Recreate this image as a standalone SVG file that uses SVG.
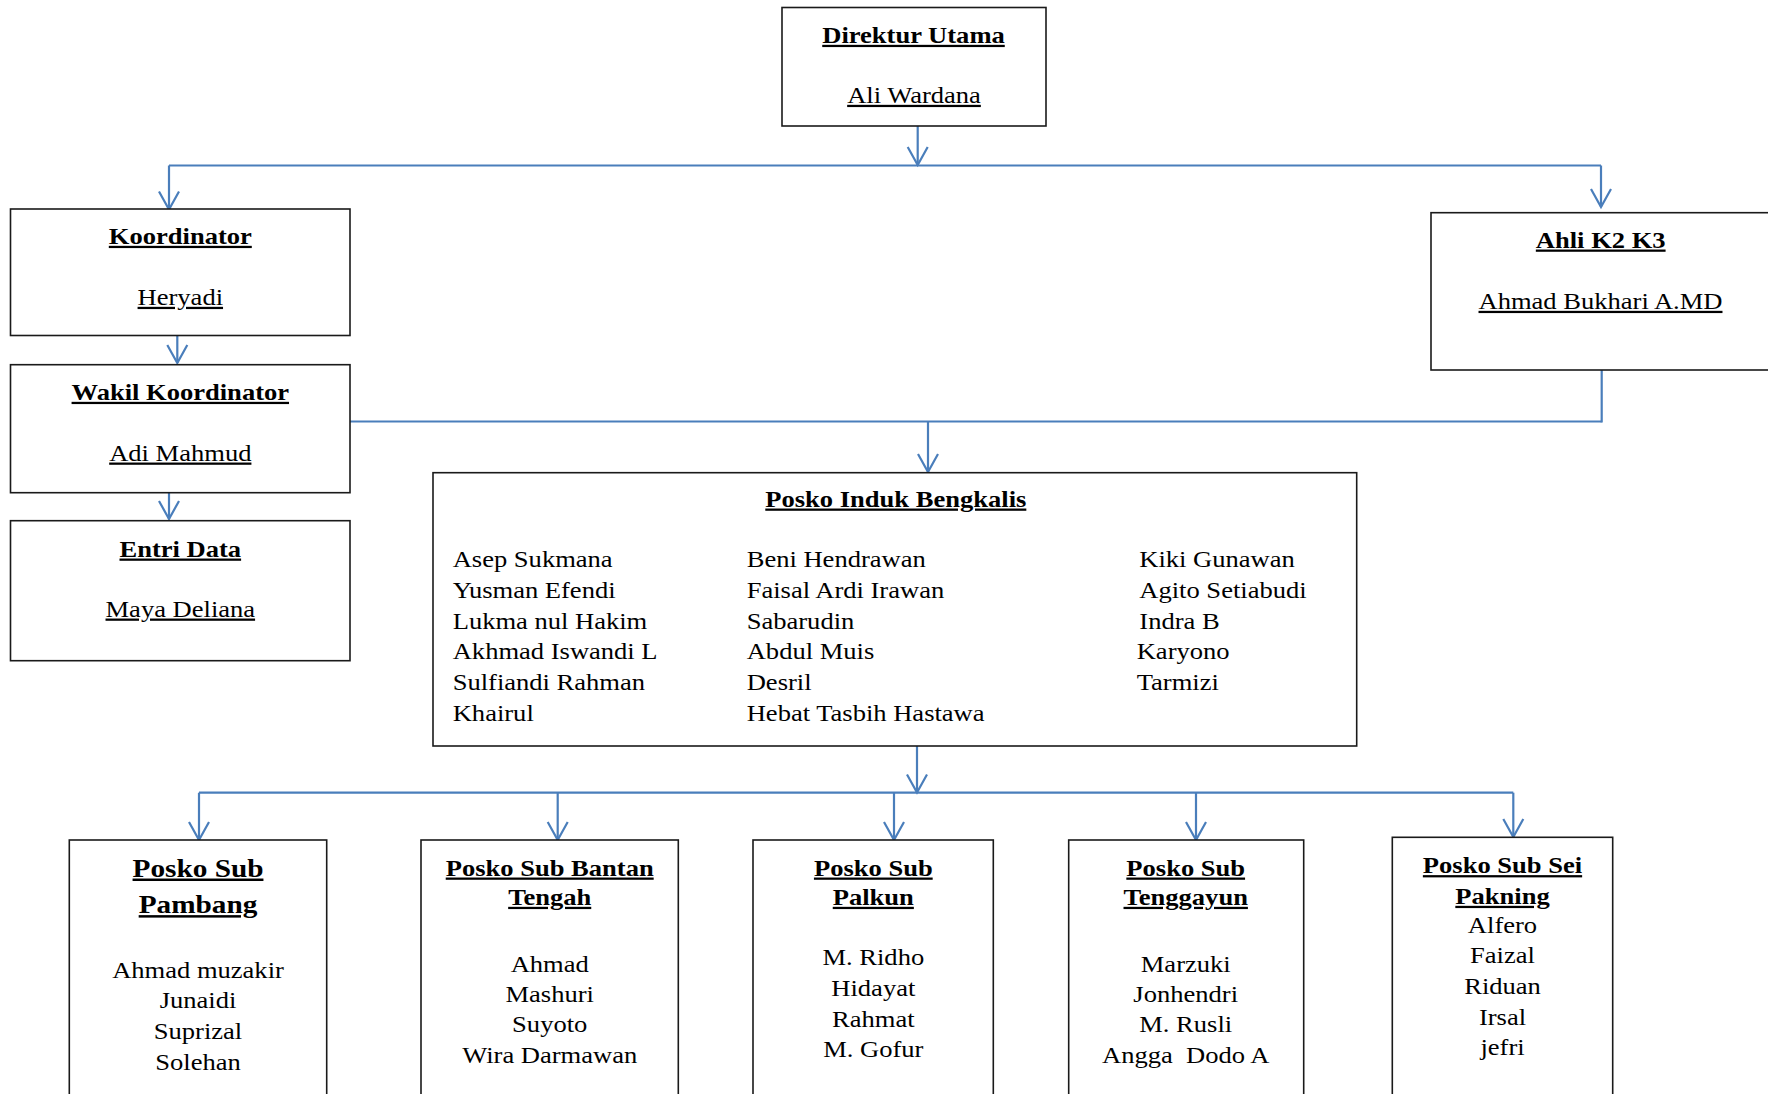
<svg xmlns="http://www.w3.org/2000/svg" width="1768" height="1094" viewBox="0 0 1768 1094">
<style>
.box{fill:#fff;stroke:#1a1a1a;stroke-width:1.6}
.t{font-family:"Liberation Serif","Times New Roman",serif;font-size:22.5px;fill:#000}
.b{font-weight:bold}
.u{text-decoration:underline}
.c{text-anchor:middle}
.big{font-size:24.8px}
.ln{stroke:#4a7ebb;stroke-width:2.2;fill:none}
</style>
<defs>
<marker id="arr" markerUnits="userSpaceOnUse" viewBox="-20 -12 22 24" refX="0" refY="0" markerWidth="22" markerHeight="24" orient="auto" overflow="visible">
<path d="M-18,-10 L0,0 L-18,10" fill="none" stroke="#4a7ebb" stroke-width="2.2"/>
</marker>
</defs>
<rect width="1768" height="1094" fill="#fff"/>

<g id="connectors">
<line class="ln" x1="917.7" y1="123" x2="917.7" y2="165" marker-end="url(#arr)"/>
<line class="ln" x1="169" y1="165.5" x2="1601" y2="165.5"/>
<line class="ln" x1="169" y1="165.5" x2="169" y2="209.5" marker-end="url(#arr)"/>
<line class="ln" x1="1601" y1="165.5" x2="1601" y2="207" marker-end="url(#arr)"/>
<line class="ln" x1="177.3" y1="329" x2="177.3" y2="363" marker-end="url(#arr)"/>
<line class="ln" x1="169" y1="487" x2="169" y2="519" marker-end="url(#arr)"/>
<line class="ln" x1="350" y1="421.5" x2="1601.7" y2="421.5"/>
<line class="ln" x1="1601.7" y1="365" x2="1601.7" y2="422.5"/>
<line class="ln" x1="928" y1="421.5" x2="928" y2="472" marker-end="url(#arr)"/>
<line class="ln" x1="917" y1="737.5" x2="917" y2="792.5" marker-end="url(#arr)"/>
<line class="ln" x1="199" y1="792.7" x2="1513.3" y2="792.7"/>
<line class="ln" x1="199" y1="792.7" x2="199" y2="840" marker-end="url(#arr)"/>
<line class="ln" x1="557.7" y1="792.7" x2="557.7" y2="840" marker-end="url(#arr)"/>
<line class="ln" x1="894" y1="792.7" x2="894" y2="840" marker-end="url(#arr)"/>
<line class="ln" x1="1196" y1="792.7" x2="1196" y2="840" marker-end="url(#arr)"/>
<line class="ln" x1="1513.3" y1="792.7" x2="1513.3" y2="837" marker-end="url(#arr)"/>
</g>

<g id="direktur">
<rect class="box" x="782" y="7.5" width="264" height="118.5"/>
<text class="t b u c" transform="translate(913.5,43) scale(1.18,1)">Direktur Utama</text>
<text class="t u c" transform="translate(914,103) scale(1.18,1)">Ali Wardana</text>
</g>

<g id="koordinator">
<rect class="box" x="10.5" y="209" width="339.5" height="126.5"/>
<text class="t b u c" transform="translate(180.3,244) scale(1.18,1)">Koordinator</text>
<text class="t u c" transform="translate(180.3,305) scale(1.18,1)">Heryadi</text>
</g>

<g id="wakil">
<rect class="box" x="10.5" y="364.7" width="339.5" height="128"/>
<text class="t b u c" transform="translate(180.3,400) scale(1.18,1)">Wakil Koordinator</text>
<text class="t u c" transform="translate(180.3,460.7) scale(1.18,1)">Adi Mahmud</text>
</g>

<g id="entri">
<rect class="box" x="10.5" y="520.7" width="339.5" height="140"/>
<text class="t b u c" transform="translate(180.3,556.7) scale(1.18,1)">Entri Data</text>
<text class="t u c" transform="translate(180.3,616.7) scale(1.18,1)">Maya Deliana</text>
</g>

<g id="ahli">
<rect class="box" x="1431" y="212.7" width="360" height="157.3"/>
<text class="t b u c" transform="translate(1600.7,247.7) scale(1.18,1)">Ahli K2 K3</text>
<text class="t u c" transform="translate(1600.5,309) scale(1.18,1)">Ahmad Bukhari A.MD</text>
</g>

<g id="posko-induk">
<rect class="box" x="433" y="472.7" width="923.7" height="273.3"/>
<text class="t b u c" transform="translate(895.8,506.7) scale(1.18,1)">Posko Induk Bengkalis</text>
<text class="t" transform="translate(452.7,567.3) scale(1.18,1)">Asep Sukmana</text>
<text class="t" transform="translate(452.7,598) scale(1.18,1)">Yusman Efendi</text>
<text class="t" transform="translate(452.7,628.7) scale(1.18,1)">Lukma nul Hakim</text>
<text class="t" transform="translate(452.7,659.3) scale(1.18,1)">Akhmad Iswandi L</text>
<text class="t" transform="translate(452.7,690) scale(1.18,1)">Sulfiandi Rahman</text>
<text class="t" transform="translate(452.7,720.7) scale(1.18,1)">Khairul</text>
<text class="t" transform="translate(746.7,567.3) scale(1.18,1)">Beni Hendrawan</text>
<text class="t" transform="translate(746.7,598) scale(1.18,1)">Faisal Ardi Irawan</text>
<text class="t" transform="translate(746.7,628.7) scale(1.18,1)">Sabarudin</text>
<text class="t" transform="translate(746.7,659.3) scale(1.18,1)">Abdul Muis</text>
<text class="t" transform="translate(746.7,690) scale(1.18,1)">Desril</text>
<text class="t" transform="translate(746.7,720.7) scale(1.18,1)">Hebat Tasbih Hastawa</text>
<text class="t" transform="translate(1139.3,567.3) scale(1.18,1)">Kiki Gunawan</text>
<text class="t" transform="translate(1139.3,598) scale(1.18,1)">Agito Setiabudi</text>
<text class="t" transform="translate(1139.3,628.7) scale(1.18,1)">Indra B</text>
<text class="t" transform="translate(1136.7,659.3) scale(1.18,1)">Karyono</text>
<text class="t" transform="translate(1136.7,690) scale(1.18,1)">Tarmizi</text>
</g>

<g id="posko-sub-pambang">
<rect class="box" x="69.3" y="840" width="257.4" height="270"/>
<text class="t b u c big" transform="translate(198,876.7) scale(1.18,1)">Posko Sub</text>
<text class="t b u c big" transform="translate(198,913.3) scale(1.18,1)">Pambang</text>
<text class="t c" transform="translate(198,977.7) scale(1.18,1)">Ahmad muzakir</text>
<text class="t c" transform="translate(198,1008.3) scale(1.18,1)">Junaidi</text>
<text class="t c" transform="translate(198,1039.3) scale(1.18,1)">Suprizal</text>
<text class="t c" transform="translate(198,1070) scale(1.18,1)">Solehan</text>
</g>

<g id="posko-sub-bantan-tengah">
<rect class="box" x="421" y="840" width="257.3" height="270"/>
<text class="t b u c" transform="translate(549.7,875.7) scale(1.18,1)">Posko Sub Bantan</text>
<text class="t b u c" transform="translate(549.7,905) scale(1.18,1)">Tengah</text>
<text class="t c" transform="translate(549.7,972.3) scale(1.18,1)">Ahmad</text>
<text class="t c" transform="translate(549.7,1002.3) scale(1.18,1)">Mashuri</text>
<text class="t c" transform="translate(549.7,1032.3) scale(1.18,1)">Suyoto</text>
<text class="t c" transform="translate(549.7,1063.3) scale(1.18,1)">Wira Darmawan</text>
</g>

<g id="posko-sub-palkun">
<rect class="box" x="753" y="840" width="240.3" height="270"/>
<text class="t b u c" transform="translate(873.3,875.7) scale(1.18,1)">Posko Sub</text>
<text class="t b u c" transform="translate(873.3,905) scale(1.18,1)">Palkun</text>
<text class="t c" transform="translate(873.3,965) scale(1.18,1)">M. Ridho</text>
<text class="t c" transform="translate(873.3,996) scale(1.18,1)">Hidayat</text>
<text class="t c" transform="translate(873.3,1026.7) scale(1.18,1)">Rahmat</text>
<text class="t c" transform="translate(873.3,1057.3) scale(1.18,1)">M. Gofur</text>
</g>

<g id="posko-sub-tenggayun">
<rect class="box" x="1068.7" y="840" width="235" height="270"/>
<text class="t b u c" transform="translate(1185.7,875.7) scale(1.18,1)">Posko Sub</text>
<text class="t b u c" transform="translate(1185.7,905) scale(1.18,1)">Tenggayun</text>
<text class="t c" transform="translate(1185.7,971.7) scale(1.18,1)">Marzuki</text>
<text class="t c" transform="translate(1185.7,1001.7) scale(1.18,1)">Jonhendri</text>
<text class="t c" transform="translate(1185.7,1032.3) scale(1.18,1)">M. Rusli</text>
<text class="t c" xml:space="preserve" transform="translate(1185.7,1063.3) scale(1.18,1)">Angga  Dodo A</text>
</g>

<g id="posko-sub-sei-pakning">
<rect class="box" x="1392.3" y="837.3" width="220.4" height="270"/>
<text class="t b u c" transform="translate(1502.5,873.3) scale(1.18,1)">Posko Sub Sei</text>
<text class="t b u c" transform="translate(1502.5,904) scale(1.18,1)">Pakning</text>
<text class="t c" transform="translate(1502.5,932.7) scale(1.18,1)">Alfero</text>
<text class="t c" transform="translate(1502.5,963.3) scale(1.18,1)">Faizal</text>
<text class="t c" transform="translate(1502.5,994.3) scale(1.18,1)">Riduan</text>
<text class="t c" transform="translate(1502.5,1025) scale(1.18,1)">Irsal</text>
<text class="t c" transform="translate(1502.5,1055) scale(1.18,1)">jefri</text>
</g>
</svg>
